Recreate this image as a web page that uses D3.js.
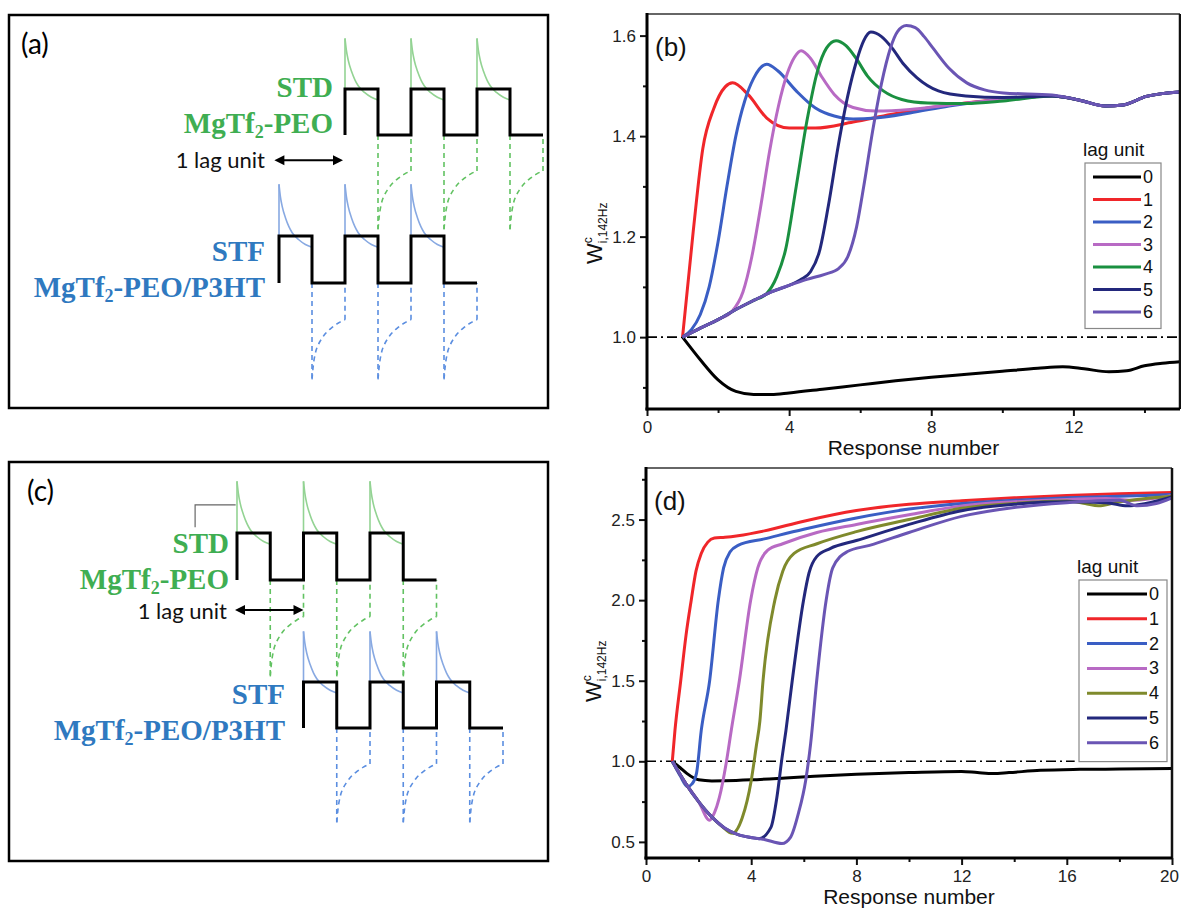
<!DOCTYPE html>
<html>
<head>
<meta charset="utf-8">
<title>Lag unit response</title>
<script src="https://d3js.org/d3.v7.min.js"></script>
<style>
  body { margin: 0; background: #fff; }
  svg { display: block; }
</style>
</head>
<body>
<div id="chart"></div>
<script>
// ---- data ----
const lagUnits = ['0', '1', '2', '3', '4', '5', '6'];
const colorsB = ['#000000', '#f0262a', '#3a5ec4', '#b86ac4', '#1a9040', '#23287c', '#6a55b4'];
const colorsD = ['#000000', '#f0262a', '#3a5ec4', '#b86ac4', '#7f8a2c', '#23287c', '#6a55b4'];

// panel (b): [response number, W]
const bLag0 = [[1,1.0],[1.5,0.955],[2,0.915],[2.5,0.892],[3,0.886],[3.5,0.886],[4,0.889],[5,0.897],[6,0.905],[7,0.913],[8,0.92],[9,0.926],[10,0.932],[11,0.938],[11.7,0.941],[12.3,0.937],[13,0.931],[13.5,0.933],[14,0.943],[14.5,0.948],[15,0.951]];
const bLag1 = [[1,1.0],[1.3,1.21],[1.57,1.375],[1.88,1.455],[2.2,1.498],[2.41,1.506],[2.84,1.483],[3.37,1.436],[4,1.416],[4.74,1.416],[5.8,1.428],[6.86,1.443],[7.9,1.456],[8.97,1.466],[10.03,1.474],[11.4,1.48],[12.15,1.472],[12.9,1.46],[13.4,1.462],[14.05,1.479],[15,1.488]];
const bLag2 = [[1,1.0],[1.25,1.015],[1.5,1.045],[1.75,1.1],[2,1.19],[2.25,1.3],[2.5,1.4],[2.75,1.47],[3,1.515],[3.37,1.543],[3.68,1.53],[4.2,1.49],[4.74,1.456],[5.27,1.44],[5.8,1.434],[6.43,1.436],[7.4,1.446],[8.5,1.46],[10,1.473],[11.4,1.48],[12.15,1.472],[12.9,1.46],[13.4,1.462],[14.05,1.479],[15,1.488]];
const bLag3 = [[1,1.0],[1.5,1.018],[2,1.035],[2.4,1.052],[2.7,1.09],[2.95,1.16],[3.2,1.26],[3.45,1.37],[3.7,1.46],[3.95,1.525],[4.15,1.557],[4.34,1.57],[4.6,1.555],[4.9,1.52],[5.27,1.483],[5.8,1.457],[6.43,1.45],[7.4,1.453],[8.5,1.462],[10,1.473],[11.4,1.48],[12.15,1.472],[12.9,1.46],[13.4,1.462],[14.05,1.479],[15,1.488]];
const bLag4 = [[1,1.0],[1.5,1.018],[2,1.035],[2.5,1.055],[3,1.073],[3.37,1.087],[3.65,1.12],[3.9,1.174],[4.2,1.3],[4.5,1.43],[4.8,1.53],[5.05,1.575],[5.32,1.59],[5.6,1.58],[5.9,1.553],[6.2,1.52],[6.65,1.49],[7.17,1.473],[7.9,1.466],[8.97,1.465],[10.03,1.47],[11.4,1.48],[12.15,1.472],[12.9,1.46],[13.4,1.462],[14.05,1.479],[15,1.488]];
const bLag5 = [[1,1.0],[1.5,1.018],[2,1.035],[2.5,1.055],[3,1.073],[3.5,1.09],[4,1.103],[4.32,1.114],[4.6,1.13],[4.85,1.17],[5.1,1.26],[5.38,1.38],[5.65,1.48],[5.9,1.55],[6.1,1.59],[6.3,1.607],[6.6,1.598],[6.9,1.575],[7.2,1.545],[7.6,1.516],[8.2,1.49],[8.97,1.48],[10.03,1.477],[11.4,1.48],[12.15,1.472],[12.9,1.46],[13.4,1.462],[14.05,1.479],[15,1.488]];
const bLag6 = [[1,1.0],[1.5,1.018],[2,1.035],[2.5,1.055],[3,1.073],[3.5,1.09],[4,1.103],[4.5,1.115],[5,1.125],[5.4,1.137],[5.65,1.16],[5.9,1.22],[6.1,1.3],[6.35,1.41],[6.6,1.505],[6.85,1.575],[7.05,1.608],[7.3,1.62],[7.55,1.616],[7.8,1.598],[8.05,1.575],[8.5,1.535],[9,1.506],[9.5,1.492],[10.03,1.486],[11.4,1.482],[12.15,1.472],[12.9,1.46],[13.4,1.462],[14.05,1.479],[15,1.488]];

// panel (d)
const dLag0 = [[1,1.0],[1.3,0.96],[1.55,0.925],[2,0.885],[2.5,0.878],[3,0.879],[4,0.885],[5.3,0.897],[6.4,0.908],[8,0.92],[10,0.93],[12,0.937],[12.6,0.93],[13.2,0.924],[13.8,0.93],[15,0.944],[16.5,0.95],[18,0.952],[20,0.955]];
const dLag1 = [[1,1.0],[1.1,1.19],[1.32,1.5],[1.52,1.78],[1.72,2.0],[1.9,2.18],[2.1,2.29],[2.35,2.36],[2.6,2.385],[3,2.39],[3.5,2.4],[4.5,2.43],[6,2.49],[8,2.556],[10,2.595],[12,2.617],[14,2.635],[16,2.65],[18,2.66],[20,2.668]];
const dLag2 = [[1,1.0],[1.3,0.91],[1.58,0.843],[1.75,0.86],[1.92,0.925],[2.1,1.19],[2.42,1.5],[2.75,2.0],[2.95,2.2],[3.2,2.3],[3.5,2.34],[4.5,2.38],[6,2.44],[8,2.51],[10,2.565],[12,2.6],[14,2.62],[16,2.635],[18,2.645],[20,2.655]];
const dLag3 = [[1,1.0],[1.5,0.865],[2,0.75],[2.42,0.634],[2.6,0.68],[2.79,0.776],[3.05,0.99],[3.24,1.19],[3.55,1.5],[3.98,2.0],[4.25,2.2],[4.63,2.31],[5.2,2.35],[6.5,2.42],[8,2.47],[10,2.53],[12,2.585],[14,2.61],[16,2.625],[17.5,2.63],[18.5,2.62],[20,2.65]];
const dLag4 = [[1,1.0],[1.5,0.865],[2,0.75],[2.5,0.655],[2.9,0.595],[3.28,0.553],[3.66,0.65],[4,0.88],[4.19,1.09],[4.33,1.25],[4.45,1.5],[4.9,2.0],[5.2,2.18],[5.63,2.29],[6.5,2.35],[8,2.425],[10,2.5],[12,2.57],[14,2.6],[16,2.615],[16.7,2.6],[17.2,2.585],[18,2.61],[20,2.645]];
const dLag5 = [[1,1.0],[1.5,0.865],[2,0.75],[2.5,0.655],[3,0.585],[3.5,0.545],[4,0.527],[4.3,0.52],[4.75,0.59],[4.98,0.78],[5.17,1.02],[5.32,1.19],[5.56,1.5],[5.99,2.0],[6.2,2.17],[6.49,2.27],[7,2.32],[8,2.37],[10,2.47],[12,2.555],[14,2.595],[16,2.61],[17.5,2.605],[18.3,2.585],[19,2.6],[20,2.64]];
const dLag6 = [[1,1.0],[1.5,0.865],[2,0.75],[2.5,0.655],[3,0.585],[3.5,0.545],[4,0.527],[4.5,0.515],[5.17,0.49],[5.5,0.53],[5.8,0.68],[6.07,0.88],[6.26,1.11],[6.49,1.5],[6.85,2.0],[7.1,2.2],[7.64,2.3],[8.5,2.34],[10,2.42],[12,2.52],[14,2.575],[16,2.605],[18,2.62],[18.7,2.585],[19.4,2.6],[20,2.635]];

const seriesB = [bLag0, bLag1, bLag2, bLag3, bLag4, bLag5, bLag6];
const seriesD = [dLag0, dLag1, dLag2, dLag3, dLag4, dLag5, dLag6];

// tick labels
const bxMajor = [0, 4, 8, 12], bxMinor = [2, 6, 10, 14];
const byMajor = [1.0, 1.2, 1.4, 1.6], byMinor = [0.9, 1.1, 1.3, 1.5];
const dxMajor = [0, 4, 8, 12, 16, 20], dxMinor = [2, 6, 10, 14, 18];
const dyMajor = [0.5, 1.0, 1.5, 2.0, 2.5], dyMinor = [0.75, 1.25, 1.75, 2.25, 2.75];

// schematic pulses: [offset within half period, level]
const decayShape = [[0,2.1],[0.02,1.85],[0.05,1.62],[0.1,1.38],[0.15,1.2],[0.2,1.07],[0.3,0.92],[0.4,0.82],[0.5,0.76]];
const recoveryShape = [[0,-2.05],[0.02,-1.75],[0.05,-1.5],[0.1,-1.3],[0.15,-1.18],[0.2,-1.08],[0.3,-0.95],[0.4,-0.85],[0.5,-0.78]];
const pulseCount = 3;

// ---- drawing ----
const svg = d3.select('#chart').append('svg')
    .attr('width', 1181).attr('height', 912)
    .style('background', '#fff');

const sans = 'Liberation Sans, Arial, sans-serif';
const serif = 'Liberation Serif, Times New Roman, serif';
const cali = 'Lato, Open Sans, sans-serif';

// ---------- schematic panels ----------
function panelBox(top, bottom) {
    svg.append('rect')
        .attr('x', 9).attr('y', top)
        .attr('width', 539).attr('height', bottom - top)
        .attr('fill', 'none').attr('stroke', '#000').attr('stroke-width', 2.5);
}

function drawWave(x, y, start, solidColor, dashColor) {
    const line = d3.line().x(d => x(d[0])).y(d => y(d[1]));
    const smooth = d3.line().x(d => x(d[0])).y(d => y(d[1])).curve(d3.curveMonotoneX);
    const g = svg.append('g').attr('fill', 'none');
    for (let i = 0; i < pulseCount; i++) {
        const r = start + i, f = r + 0.5;
        // solid response: jump up, decay, drop with edge
        g.append('path').attr('d', line([[r, 0], [r, decayShape[0][1]]]))
            .attr('stroke', solidColor).attr('stroke-width', 1.6);
        g.append('path').attr('d', smooth(decayShape.map(p => [r + p[0], p[1]])))
            .attr('stroke', solidColor).attr('stroke-width', 1.6);
        g.append('path').attr('d', line([[f, decayShape[decayShape.length - 1][1]], [f, 0]]))
            .attr('stroke', solidColor).attr('stroke-width', 1.6);
        // dashed response: negative jump and recovery
        const last = recoveryShape[recoveryShape.length - 1];
        g.append('path').attr('d', line([[f, 0], [f, recoveryShape[0][1]]]))
            .attr('stroke', dashColor).attr('stroke-width', 1.6).attr('stroke-dasharray', '5,4');
        g.append('path').attr('d', smooth(recoveryShape.map(p => [f + p[0], p[1]])))
            .attr('stroke', dashColor).attr('stroke-width', 1.6).attr('stroke-dasharray', '5,4');
        g.append('path').attr('d', line([[f + last[0], last[1]], [f + last[0], 0]]))
            .attr('stroke', dashColor).attr('stroke-width', 1.6).attr('stroke-dasharray', '5,4');
    }
    // square wave
    const pts = [[start, 0]];
    for (let i = 0; i < pulseCount; i++) {
        const r = start + i;
        pts.push([r, 1], [r + 0.5, 1], [r + 0.5, 0], [r + 1, 0]);
    }
    g.append('path').attr('d', line(pts))
        .attr('stroke', '#000').attr('stroke-width', 3).attr('stroke-linejoin', 'miter');
}

function materialLabel(xRight, yTop, name, sample, color) {
    svg.append('text')
        .attr('text-anchor', 'end')
        .attr('font-family', serif).attr('font-weight', 'bold')
        .attr('font-size', 29).attr('fill', color)
        .attr('x', xRight).attr('y', yTop).text(name);
    const t2 = svg.append('text')
        .attr('text-anchor', 'end')
        .attr('font-family', serif).attr('font-weight', 'bold')
        .attr('font-size', 29).attr('fill', color)
        .attr('x', xRight).attr('y', yTop + 36);
    t2.append('tspan').text('MgTf');
    t2.append('tspan').attr('font-size', 18).attr('dy', 5).text('2');
    t2.append('tspan').attr('dy', -5).text(sample);
}

function lagArrow(x0, x1, y, textRight, textY) {
    const g = svg.append('g');
    g.append('line').attr('x1', x0 + 6).attr('x2', x1 - 6).attr('y1', y).attr('y2', y)
        .attr('stroke', '#000').attr('stroke-width', 2);
    g.append('path').attr('d', `M${x0},${y}L${x0 + 10},${y - 5}L${x0 + 10},${y + 5}Z`).attr('fill', '#000');
    g.append('path').attr('d', `M${x1},${y}L${x1 - 10},${y - 5}L${x1 - 10},${y + 5}Z`).attr('fill', '#000');
    svg.append('text').attr('x', textRight).attr('y', textY)
        .attr('text-anchor', 'end').attr('font-family', cali).attr('font-size', 22)
        .attr('fill', '#111').text('1 lag unit');
}

const green = '#3fae52', blue = '#2f79c0';
const gSolid = '#93d393', gDash = '#62c262', bSolid = '#88a9e2', bDash = '#5b8ee0';

// panel (a)
panelBox(15, 408);
svg.append('text').attr('x', 21).attr('y', 54).attr('font-family', cali).attr('font-size', 28).text('(a)');
const xA = d3.scaleLinear().domain([0, 4]).range([279, 543]);
const yA1 = d3.scaleLinear().domain([0, 1]).range([135, 89]);
const yA2 = d3.scaleLinear().domain([0, 1]).range([283, 236]);
drawWave(xA, yA1, 1, gSolid, gDash);
drawWave(xA, yA2, 0, bSolid, bDash);
materialLabel(333, 97, 'STD', '-PEO', green);
materialLabel(265, 261, 'STF', '-PEO/P3HT', blue);
lagArrow(xA(-0.07), xA(0.97), yA1(-0.55), 265, 168);

// panel (c)
panelBox(462, 861);
svg.append('text').attr('x', 27).attr('y', 501).attr('font-family', cali).attr('font-size', 28).text('(c)');
const xC = d3.scaleLinear().domain([0, 4]).range([237, 503]);
const yC1 = d3.scaleLinear().domain([0, 1]).range([580, 533]);
const yC2 = d3.scaleLinear().domain([0, 1]).range([728, 682]);
drawWave(xC, yC1, 0, gSolid, gDash);
drawWave(xC, yC2, 1, bSolid, bDash);
svg.append('path')
    .attr('d', d3.line()([[xC(-0.63), yC1(1.12)], [xC(-0.63), yC1(1.6)], [xC(-0.02), yC1(1.6)]]))
    .attr('fill', 'none').attr('stroke', '#666').attr('stroke-width', 1.2);
materialLabel(229, 553, 'STD', '-PEO', green);
materialLabel(285, 704, 'STF', '-PEO/P3HT', blue);
lagArrow(xC(-0.03), xC(1.0), yC1(-0.64), 227, 619);

// ---------- data panels ----------
function dataPanel(opt) {
    const x = d3.scaleLinear().domain(opt.xDomain).range([opt.left, opt.right]);
    const y = d3.scaleLinear().domain(opt.yDomain).range([opt.bottom, opt.top]);
    const g = svg.append('g');

    const clipId = 'clip' + opt.id;
    svg.append('clipPath').attr('id', clipId).append('rect')
        .attr('x', opt.left).attr('y', opt.top)
        .attr('width', opt.right - opt.left).attr('height', opt.bottom - opt.top);

    // reference line at W = 1
    g.append('line')
        .attr('x1', x(opt.xDomain[0])).attr('x2', x(opt.refEnd))
        .attr('y1', y(1)).attr('y2', y(1))
        .attr('stroke', '#000').attr('stroke-width', 1.6)
        .attr('stroke-dasharray', '10,4,2,4');

    const line = d3.line().x(d => x(d[0])).y(d => y(d[1])).curve(d3.curveMonotoneX);
    g.append('g').attr('clip-path', `url(#${clipId})`)
        .selectAll('path').data(opt.series).join('path')
        .attr('d', line)
        .attr('fill', 'none')
        .attr('stroke', (d, i) => opt.colors[i])
        .attr('stroke-width', 3)
        .attr('stroke-linejoin', 'round');

    // axes
    const axStyle = sel => {
        sel.select('.domain').remove();
        sel.selectAll('line').attr('stroke', '#111').attr('stroke-width', 2);
        sel.selectAll('text').attr('font-family', sans).attr('font-size', 17).attr('fill', '#222');
    };
    const xAxis = g.append('g').attr('transform', `translate(0,${opt.bottom})`)
        .call(d3.axisBottom(x).tickValues(opt.xMajor).tickSize(7).tickPadding(5).tickFormat(d3.format('d')))
        .call(axStyle);
    // keep the last label inside the page edge
    xAxis.selectAll('.tick text').filter(d => d === opt.xDomain[1]).attr('dx', opt.lastLabelShift);
    g.append('g').attr('transform', `translate(0,${opt.bottom})`)
        .call(d3.axisBottom(x).tickValues(opt.xMinor).tickSize(4).tickFormat(''))
        .call(axStyle);
    g.append('g').attr('transform', `translate(${opt.left},0)`)
        .call(d3.axisLeft(y).tickValues(opt.yMajor).tickSize(7).tickPadding(4).tickFormat(d3.format('.1f')))
        .call(axStyle);
    g.append('g').attr('transform', `translate(${opt.left},0)`)
        .call(d3.axisLeft(y).tickValues(opt.yMinor).tickSize(4).tickFormat(''))
        .call(axStyle);

    // frame
    g.append('line').attr('x1', opt.left).attr('x2', opt.right).attr('y1', opt.top).attr('y2', opt.top)
        .attr('stroke', '#333').attr('stroke-width', 1.5);
    g.append('line').attr('x1', opt.right).attr('x2', opt.right).attr('y1', opt.top).attr('y2', opt.bottom)
        .attr('stroke', '#111').attr('stroke-width', 2.5);
    g.append('line').attr('x1', opt.left).attr('x2', opt.left).attr('y1', opt.top - 1).attr('y2', opt.bottom + 1.5)
        .attr('stroke', '#000').attr('stroke-width', 3);
    g.append('line').attr('x1', opt.left - 1.5).attr('x2', opt.right).attr('y1', opt.bottom).attr('y2', opt.bottom)
        .attr('stroke', '#000').attr('stroke-width', 3);

    // labels
    g.append('text').attr('x', (opt.left + opt.right) / 2).attr('y', opt.bottom + 46)
        .attr('text-anchor', 'middle').attr('font-family', sans).attr('font-size', 21)
        .attr('fill', '#111').text('Response number');
    const yl = g.append('text')
        .attr('transform', `translate(${opt.left - 45},${opt.yLabelAt}) rotate(-90)`)
        .attr('font-family', sans).attr('fill', '#111');
    yl.append('tspan').attr('font-size', 22).text('W');
    yl.append('tspan').attr('font-size', 12).attr('dy', -10).text('c');
    yl.append('tspan').attr('font-size', 12).attr('dx', -6).attr('dy', 15).text('i,142Hz');

    g.append('text').attr('x', opt.left + 8).attr('y', opt.top + 42)
        .attr('font-family', sans).attr('font-size', 26).attr('fill', '#111').text(opt.name);

    // legend
    const lg = g.append('g');
    lg.append('text').attr('x', opt.legX - 2).attr('y', opt.legY - 7)
        .attr('font-family', sans).attr('font-size', 19).attr('fill', '#111').text('lag unit');
    lg.append('rect').attr('x', opt.legX).attr('y', opt.legY)
        .attr('width', opt.legW).attr('height', opt.legStep * lagUnits.length + 8)
        .attr('fill', '#fff').attr('stroke', '#888').attr('stroke-width', 1.2);
    const item = lg.selectAll('g.item').data(lagUnits).join('g')
        .attr('class', 'item')
        .attr('transform', (d, i) => `translate(${opt.legX},${opt.legY + 14 + i * opt.legStep})`);
    item.append('line').attr('x1', 8).attr('x2', opt.legW - 20).attr('y1', 0).attr('y2', 0)
        .attr('stroke', (d, i) => opt.colors[i]).attr('stroke-width', 3);
    item.append('text').attr('x', opt.legW - 18).attr('y', 6)
        .attr('font-family', sans).attr('font-size', 18).attr('fill', '#111').text(d => d);
}

dataPanel({
    id: 'b', name: '(b)', series: seriesB, colors: colorsB,
    left: 647, right: 1180, top: 14, bottom: 409,
    xDomain: [0, 15], yDomain: [0.857, 1.643], refEnd: 15, lastLabelShift: 0,
    xMajor: bxMajor, xMinor: bxMinor, yMajor: byMajor, yMinor: byMinor,
    yLabelAt: 264, legX: 1085, legY: 163, legW: 76, legStep: 22.5
});

dataPanel({
    id: 'd', name: '(d)', series: seriesD, colors: colorsD,
    left: 646, right: 1172, top: 468, bottom: 858,
    xDomain: [0, 20], yDomain: [0.40, 2.82], refEnd: 16.3, lastLabelShift: -3,
    xMajor: dxMajor, xMinor: dxMinor, yMajor: dyMajor, yMinor: dyMinor,
    yLabelAt: 702, legX: 1079, legY: 580, legW: 88, legStep: 24.8
});
</script>
</body>
</html>
